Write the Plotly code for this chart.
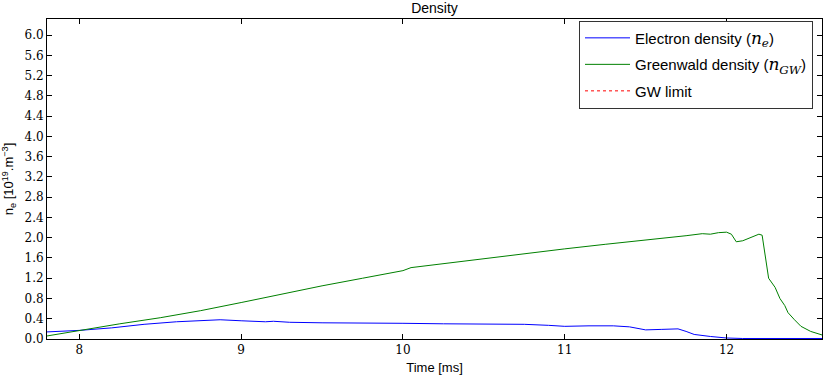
import plotly.graph_objects as go

# Data
ne_time = [7.80, 8.00, 8.20, 8.40, 8.60, 8.80, 8.87, 9.00, 9.15, 9.20, 9.30, 9.50, 9.75,
           10.00, 10.25, 10.50, 10.60, 10.75, 10.90, 11.00, 11.15, 11.30, 11.40, 11.50,
           11.60, 11.70, 11.75, 11.80, 11.90, 12.00, 12.10, 12.59]
ne_vals = [0.14, 0.17, 0.22, 0.29, 0.34, 0.37, 0.38, 0.36, 0.34, 0.35, 0.33, 0.32, 0.32,
           0.31, 0.30, 0.29, 0.30, 0.29, 0.27, 0.25, 0.26, 0.26, 0.24, 0.18,
           0.19, 0.20, 0.15, 0.09, 0.05, 0.02, 0.01, 0.01]

ngw_time = [7.80, 8.00, 8.25, 8.50, 8.75, 9.00, 9.25, 9.50, 9.75, 9.95, 10.00, 10.05, 10.25,
            10.50, 10.75, 11.00, 11.25, 11.50, 11.75, 11.85, 11.90, 11.95, 12.00, 12.03,
            12.06, 12.10, 12.20, 12.22, 12.26, 12.30, 12.33, 12.36, 12.38, 12.42, 12.46,
            12.52, 12.59]
ngw_vals = [0.06, 0.17, 0.30, 0.42, 0.56, 0.72, 0.89, 1.05, 1.20, 1.31, 1.35, 1.41, 1.49,
            1.59, 1.69, 1.78, 1.87, 1.95, 2.04, 2.08, 2.07, 2.10, 2.11, 2.07,
            1.92, 1.94, 2.07, 2.05, 1.20, 1.02, 0.80, 0.66, 0.52, 0.38, 0.25,
            0.15, 0.08]

x_ticks = [8, 9, 10, 11, 12]
y_ticks = [round(0.4 * i, 1) for i in range(16)]
y_tick_labels = [f"{v:.1f}" for v in y_ticks]

serif = "DejaVu Serif"
sans = "Liberation Sans, Arial, sans-serif"

fig = go.Figure()
fig.add_trace(go.Scatter(
    x=ne_time, y=ne_vals, mode="lines", legendgroup="a",
    line=dict(color="#0000ff", width=1),
    name='Electron density (<span style="font-family:DejaVu Serif;font-size:17px"><i>n<sub>e</sub></i></span>)'))
fig.add_trace(go.Scatter(
    x=ngw_time, y=ngw_vals, mode="lines", legendgroup="b",
    line=dict(color="#008000", width=1),
    name='Greenwald density (<span style="font-family:DejaVu Serif;font-size:17px"><i>n<sub>GW</sub></i></span>)'))
fig.add_trace(go.Scatter(
    x=[None], y=[None], mode="lines", legendgroup="c",
    line=dict(color="#ff0000", width=1, dash="dot"),
    name="GW limit", showlegend=True))

fig.update_layout(
    width=824, height=377,
    margin=dict(l=47, r=2, t=19, b=38),
    paper_bgcolor="white", plot_bgcolor="white",
    title=dict(text="Density", x=0.5, xref="paper", xanchor="center",
               y=1 - 8 / 377, yref="container", yanchor="middle", pad=dict(t=0, b=0),
               font=dict(family=sans, size=14, color="black")),
    font=dict(family=sans, color="black"),
    legend=dict(x=0.9884, xanchor="right", y=0.995, yanchor="top",
                bgcolor="white", bordercolor="#333333", borderwidth=1,
                font=dict(family=sans, size=15, color="black"),
                itemwidth=45, tracegroupgap=4),
    showlegend=True,
)
fig.update_xaxes(
    range=[7.8, 12.59], tickvals=x_ticks, ticktext=[str(t) for t in x_ticks],
    ticks="inside", ticklen=5, tickcolor="black", mirror="allticks",
    showline=True, linecolor="black", linewidth=1, showgrid=False, zeroline=False,
    tickfont=dict(family=serif, size=12, color="black"),
    title=dict(text="Time [ms]", font=dict(family=sans, size=13, color="black"), standoff=6),
)
fig.update_yaxes(
    range=[0, 6.32], tickvals=y_ticks, ticktext=y_tick_labels,
    ticks="inside", ticklen=5, tickcolor="black", mirror="allticks",
    showline=True, linecolor="black", linewidth=1, showgrid=False, zeroline=False,
    tickfont=dict(family=serif, size=12, color="black"),
    title=dict(text="n<sub>e</sub> [10<sup>19</sup>.m<sup>−3</sup>]",
               font=dict(family=sans, size=13, color="black"), standoff=8),
)

fig.write_html("out.html", config={"displayModeBar": False},
               post_script="document.body.style.margin='0';")
